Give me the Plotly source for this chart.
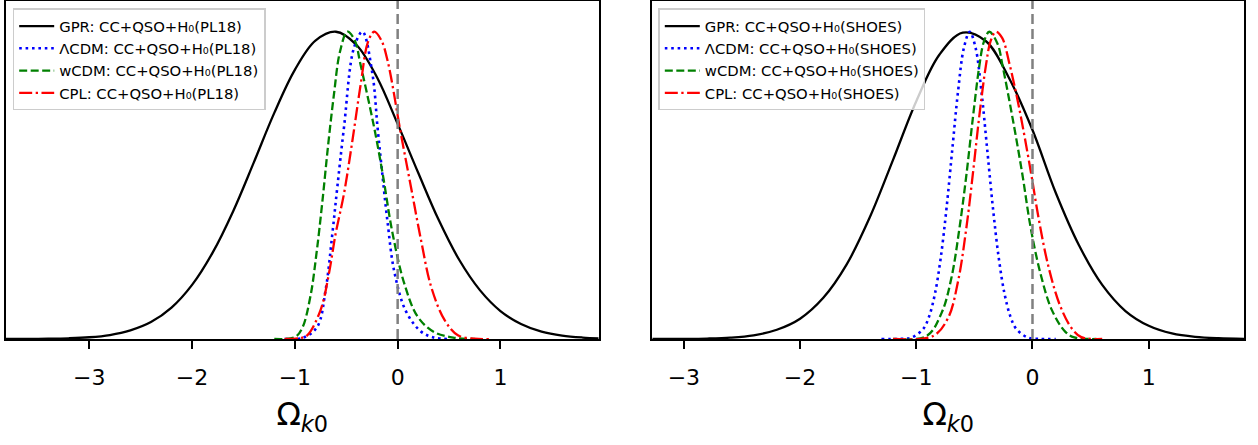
import plotly.graph_objects as go

# ---------------- data ----------------
# Left panel: CC+QSO+H0(PL18)
gpr_left_x = [-3.85, -3.8, -3.6, -3.4, -3.2, -3.0, -2.8, -2.6, -2.4, -2.2, -2.0, -1.8, -1.6, -1.4, -1.2,
              -1.0, -0.8, -0.6, -0.4, -0.2, 0.0, 0.2, 0.4, 0.6, 0.8, 1.0, 1.2, 1.4, 1.6, 1.8, 1.96]
gpr_left_y = [0.0001, 0.0001, 0.0003, 0.0009, 0.0023, 0.0057, 0.013, 0.028, 0.055, 0.102, 0.176, 0.281,
              0.416, 0.574, 0.736, 0.876, 0.971, 1.0, 0.957, 0.851, 0.70, 0.541, 0.387, 0.257, 0.159,
              0.091, 0.049, 0.024, 0.011, 0.0048, 0.0023]

lcdm_left_x = [-1.1, -0.92, -0.782, -0.701, -0.635, -0.587, -0.522, -0.424, -0.342, -0.244, -0.196,
               -0.147, -0.098, -0.033, 0.081, 0.228, 0.35, 0.5]
lcdm_left_y = [0.0, 0.004, 0.04, 0.159, 0.343, 0.494, 0.689, 0.949, 1.0, 0.86, 0.69, 0.53, 0.38, 0.22,
               0.09, 0.024, 0.005, 0.0]

wcdm_left_x = [-1.2, -1.0, -0.929, -0.848, -0.789, -0.733, -0.675, -0.62, -0.561, -0.489, -0.42,
               -0.359, -0.229, -0.147, -0.049, 0.065, 0.196, 0.358, 0.55, 0.75]
wcdm_left_y = [0.0, 0.006, 0.035, 0.14, 0.28, 0.445, 0.635, 0.795, 0.935, 1.0, 0.974, 0.89, 0.689,
               0.54, 0.343, 0.18, 0.072, 0.022, 0.004, 0.0]

cpl_left_x = [-1.1, -0.95, -0.88, -0.75, -0.668, -0.603, -0.522, -0.44, -0.359, -0.29, -0.229, -0.16,
              -0.098, 0.032, 0.13, 0.228, 0.326, 0.456, 0.586, 0.75, 0.9]
cpl_left_y = [0.0, 0.003, 0.012, 0.094, 0.214, 0.343, 0.473, 0.646, 0.83, 0.965, 1.0, 0.973, 0.906,
              0.667, 0.494, 0.321, 0.17, 0.062, 0.012, 0.001, 0.0]

# Right panel: CC+QSO+H0(SHOES)
gpr_right_x = [-3.3, -3.0, -2.8, -2.6, -2.4, -2.2, -2.0, -1.8, -1.6, -1.4, -1.2, -1.0, -0.8, -0.6, -0.4,
               -0.2, 0.0, 0.2, 0.4, 0.6, 0.8, 1.0, 1.2, 1.4, 1.6, 1.85]
gpr_right_y = [0.0, 0.0004, 0.0014, 0.0044, 0.012, 0.030, 0.066, 0.134, 0.242, 0.396, 0.583, 0.774,
               0.926, 0.997, 0.969, 0.848, 0.68, 0.476, 0.305, 0.176, 0.091, 0.043, 0.018, 0.0069,
               0.0024, 0.0005]

lcdm_right_x = [-1.3, -1.14, -1.04, -0.94, -0.89, -0.84, -0.79, -0.74, -0.69, -0.64, -0.59, -0.54,
                -0.49, -0.44, -0.39, -0.34, -0.29, -0.24, -0.19, -0.14, -0.04, 0.06, 0.2]
lcdm_right_y = [0.0, 0.0005, 0.0048, 0.033, 0.073, 0.146, 0.263, 0.425, 0.618, 0.808, 0.948, 1.0,
                0.948, 0.808, 0.618, 0.425, 0.263, 0.146, 0.073, 0.033, 0.0048, 0.0005, 0.0]

wcdm_right_x = [-1.2, -0.91, -0.782, -0.697, -0.627, -0.57, -0.513, -0.457, -0.42, -0.372, -0.30,
                -0.258, -0.173, -0.088, -0.017, 0.068, 0.167, 0.281, 0.36, 0.55]
wcdm_right_y = [0.0, 0.01, 0.085, 0.2, 0.365, 0.53, 0.72, 0.89, 0.965, 1.0, 0.96, 0.89, 0.722, 0.538,
                0.365, 0.214, 0.094, 0.024, 0.005, 0.0]

cpl_right_x = [-1.2, -0.854, -0.726, -0.641, -0.57, -0.513, -0.457, -0.40, -0.36, -0.315, -0.26,
               -0.201, -0.116, -0.017, 0.054, 0.139, 0.238, 0.337, 0.42, 0.6]
cpl_right_y = [0.0, 0.01, 0.069, 0.187, 0.359, 0.538, 0.728, 0.892, 0.97, 1.0, 0.979, 0.9, 0.754, 0.55,
               0.39, 0.233, 0.108, 0.035, 0.006, 0.0]

tick_vals = [-3, -2, -1, 0, 1]
tick_text = ["\u22123", "\u22122", "\u22121", "0", "1"]
ref_x = 0

left_names = ["GPR: CC+QSO+H\u2080(PL18)", "\u039bCDM: CC+QSO+H\u2080(PL18)",
              "wCDM: CC+QSO+H\u2080(PL18)", "CPL: CC+QSO+H\u2080(PL18)"]
right_names = ["GPR: CC+QSO+H\u2080(SHOES)", "\u039bCDM: CC+QSO+H\u2080(SHOES)",
               "wCDM: CC+QSO+H\u2080(SHOES)", "CPL: CC+QSO+H\u2080(SHOES)"]

# ---------------- styles ----------------
LW = 2.3
styles = [
    dict(color="black", width=LW, dash="solid"),
    dict(color="#0000ff", width=2.6, dash="2.6px,3.8px"),
    dict(color="#008000", width=LW, dash="8px,3.5px"),
    dict(color="#ff0000", width=LW, dash="13px,3.5px,2.3px,3.5px"),
]
FONT = "DejaVu Sans"

fig = go.Figure()

left_sets = [(gpr_left_x, gpr_left_y), (lcdm_left_x, lcdm_left_y),
             (wcdm_left_x, wcdm_left_y), (cpl_left_x, cpl_left_y)]
right_sets = [(gpr_right_x, gpr_right_y), (lcdm_right_x, lcdm_right_y),
              (wcdm_right_x, wcdm_right_y), (cpl_right_x, cpl_right_y)]

for (xs, ys), name, st in zip(left_sets, left_names, styles):
    fig.add_trace(go.Scatter(x=xs, y=ys, mode="lines", name=name,
                             line=dict(shape="spline", smoothing=1.0, **st),
                             xaxis="x", yaxis="y", legend="legend"))
for (xs, ys), name, st in zip(right_sets, right_names, styles):
    fig.add_trace(go.Scatter(x=xs, y=ys, mode="lines", name=name,
                             line=dict(shape="spline", smoothing=1.0, **st),
                             xaxis="x2", yaxis="y2", legend="legend2"))

for xr, yr in [("x", "y"), ("x2", "y2")]:
    fig.add_shape(type="line", xref=xr, yref=yr + " domain", x0=ref_x, x1=ref_x, y0=0, y1=1,
                  line=dict(color="gray", width=2.5, dash="10px,5px"), layer="above")

W, H = 1258, 445
ml, mr, mt, mb = 6, 14, 1, 106

axis_common = dict(
    showline=True, linecolor="black", linewidth=2.2, mirror=True, showgrid=False, zeroline=False,
    automargin=False,
)
xaxis_common = dict(
    tickvals=tick_vals, ticktext=tick_text, ticks="outside", ticklen=8, tickwidth=1.6, tickcolor="black",
    tickfont=dict(family=FONT, size=22, color="black"), ticklabelstandoff=9,
    title=dict(text="\u03a9<sub><i>k</i>0</sub>", font=dict(family=FONT, size=32, color="black"), standoff=14),
    **axis_common,
)
yaxis_common = dict(range=[0, 1.1], showticklabels=False, ticks="", **axis_common)

legend_common = dict(
    font=dict(family=FONT, size=14.8, color="black"), bgcolor="rgba(255,255,255,0.8)",
    bordercolor="#cccccc", borderwidth=1.5, xanchor="left", yanchor="top", itemwidth=35,
    tracegroupgap=0,
)

fig.update_layout(
    width=W, height=H, autosize=False,
    margin=dict(l=ml, r=mr, t=mt, b=mb, pad=0),
    paper_bgcolor="white", plot_bgcolor="white",
    xaxis=dict(domain=[0, 0.4786], range=[-3.81, 1.954], anchor="y", **xaxis_common),
    yaxis=dict(domain=[0, 1], anchor="x", **yaxis_common),
    xaxis2=dict(domain=[0.5222, 1], range=[-3.27, 1.82], anchor="y2", **xaxis_common),
    yaxis2=dict(domain=[0, 1], anchor="x2", **yaxis_common),
    legend=dict(x=0.0054, y=0.978, **legend_common),
    legend2=dict(x=0.5269, y=0.978, **legend_common),
    showlegend=True,
)

fig.write_html("out.html", config={"displayModeBar": False},
               post_script="document.body.style.margin='0';document.body.style.padding='0';"
                           "document.body.style.overflow='hidden';")
